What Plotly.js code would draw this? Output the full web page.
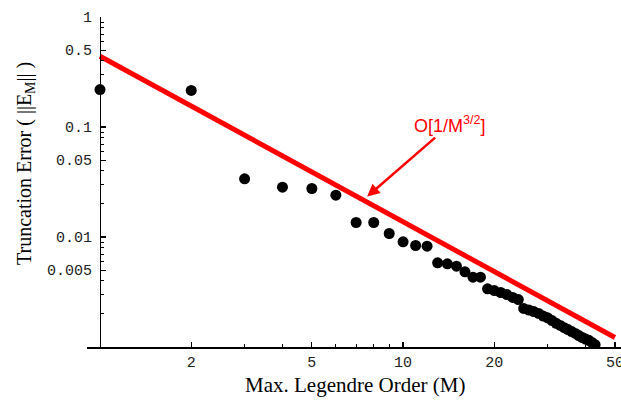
<!DOCTYPE html>
<html>
<head>
<meta charset="utf-8">
<script src="https://cdn.plot.ly/plotly-3.0.1.min.js"></script>
<style>html,body{margin:0;padding:0;background:#fff;}#chart{width:621px;height:400px;}</style>
</head>
<body>
<div id="chart"></div>
<script>
// Data
const orderM = [1,2,3,4,5,6,7,8,9,10,11,12,13,14,15,16,17,18,19,20,21,22,23,24,25,26,27,28,29,30,31,32,33,34,35,36,37,38,39,40,41,42,43];
const truncErr = [0.219,0.215,0.0338,0.0284,0.0276,0.0240,0.01355,0.01355,0.01076,0.00904,0.00837,0.00825,
  0.00583,0.00571,0.00543,0.00483,0.00431,0.00431,0.00338,0.00326,0.00313,0.00300,0.00282,0.00270,
  0.00224,0.00217,0.00210,0.00202,0.00191,0.00184,0.00174,0.00164,0.00157,0.00150,0.00144,0.00138,
  0.00133,0.00127,0.00122,0.00118,0.00115,0.00110,0.00105];
const refM = [1,2,5,10,20,30,40,50];
const refErr = [0.44,0.155,0.0390,0.0140,0.0049,0.0027,0.00172,0.00122];

const xTickVals = [2,5,10,20,50];
const xTickText = ['2','5','10','20','50'];
const xMinorVals = [3,4,6,7,8,9,30,40];
const yTickVals = [1,0.5,0.1,0.05,0.01,0.005];
const yTickText = ['1','0.5','0.1','0.05','0.01','0.005'];
const yMinorVals = [0.9,0.8,0.7,0.6,0.4,0.3,0.2,0.09,0.08,0.07,0.06,0.04,0.03,0.02,0.009,0.008,0.007,0.006,0.004,0.003,0.002];

const xTitle = 'Max. Legendre Order (M)';
const yTitle = 'Truncation Error ( ||E<sub>M</sub>|| )';
const lineLabel = 'O[1/M<sup>3/2</sup>]';

const tickFont = {family: 'Liberation Mono, DejaVu Sans Mono, monospace', size: 15, color: '#222'};

const traces = [
  {x: refM, y: refErr, mode: 'lines', type: 'scatter',
   line: {color: '#ff0000', width: 5}, hoverinfo: 'skip'},
  {x: orderM, y: truncErr, mode: 'markers', type: 'scatter',
   marker: {color: '#000', size: 11}}
];

const layout = {
  width: 621, height: 400,
  margin: {l: 87, r: 0, t: 17, b: 53},
  showlegend: false,
  paper_bgcolor: '#fff', plot_bgcolor: '#fff',
  xaxis: {
    type: 'log', range: [-0.0429, 1.719],
    showgrid: false, zeroline: false,
    showline: true, linecolor: '#000', linewidth: 1.5,
    ticks: 'inside', ticklen: 5, tickwidth: 1.2, tickcolor: '#000',
    tickmode: 'array', tickvals: xTickVals, ticktext: xTickText,
    ticklabelstandoff: 0, ticklabeloverflow: 'allow',
    minor: {tickmode: 'array', tickvals: xMinorVals, ticks: 'inside', ticklen: 3, tickwidth: 1, tickcolor: '#000', showgrid: false},
    tickfont: tickFont
  },
  yaxis: {
    type: 'log', range: [-3, 0],
    anchor: 'free', position: 0.0243,
    showgrid: false, zeroline: false,
    showline: true, linecolor: '#000', linewidth: 1.5,
    ticks: 'inside', ticklen: 5, tickwidth: 1.2, tickcolor: '#000',
    tickmode: 'array', tickvals: yTickVals, ticktext: yTickText,
    ticklabelstandoff: 5, ticklabeloverflow: 'allow',
    minor: {tickmode: 'array', tickvals: yMinorVals, ticks: 'inside', ticklen: 3, tickwidth: 1, tickcolor: '#000', showgrid: false},
    tickfont: tickFont
  },
  annotations: [
    {
      x: Math.log10(7.61), y: Math.log10(0.0233), xref: 'x', yref: 'y',
      text: lineLabel, showarrow: true,
      ax: 83, ay: -72, axref: 'pixel', ayref: 'pixel',
      arrowhead: 2, arrowsize: 1, arrowwidth: 2.5, arrowcolor: '#ff0000',
      font: {family: 'Liberation Sans, Arial, sans-serif', size: 18, color: '#ff0000'}
    },
    {
      x: 0.5019, y: -0.115, xref: 'paper', yref: 'paper',
      xanchor: 'center', yanchor: 'middle', showarrow: false,
      text: xTitle,
      font: {family: 'Liberation Serif, DejaVu Serif, serif', size: 21, color: '#000'}
    },
    {
      x: -0.1161, y: 0.5545, xref: 'paper', yref: 'paper',
      xanchor: 'center', yanchor: 'middle', showarrow: false, textangle: -90,
      text: yTitle,
      font: {family: 'Liberation Serif, DejaVu Serif, serif', size: 20, color: '#000'}
    }
  ]
};

Plotly.newPlot('chart', traces, layout, {displayModeBar: false, staticPlot: true});
</script>
</body>
</html>
